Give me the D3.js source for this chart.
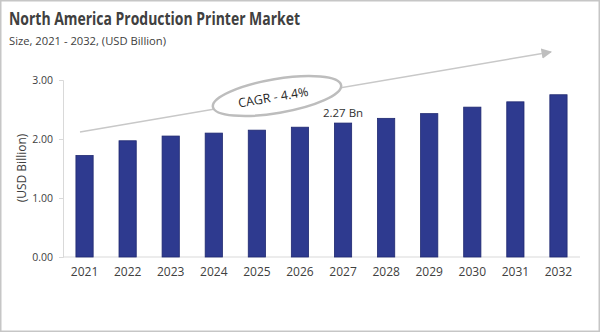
<!DOCTYPE html>
<html><head><meta charset="utf-8">
<script src="https://cdn.jsdelivr.net/npm/d3@7"></script>
<style>body{margin:0;background:#fff}svg{display:block}</style>
</head><body>
<script>
const years = ["2021","2022","2023","2024","2025","2026","2027","2028","2029","2030","2031","2032"];
const values = [1.72,1.97,2.05,2.10,2.15,2.20,2.27,2.35,2.43,2.54,2.63,2.75];
const yTicks = [0,1,2,3];
const title = "North America Production Printer Market";
const subtitle = "Size, 2021 - 2032, (USD Billion)";
const yLabel = "(USD Billion)";
const cagrText = "CAGR - 4.4%";
const annotIndex = 6;
const annotText = "2.27 Bn";

const W = 600, H = 332;
const font = "'Open Sans', 'Noto Sans', sans-serif";
const svg = d3.select("body").append("svg").attr("width", W).attr("height", H);
svg.append("rect").attr("x",0.75).attr("y",0.75).attr("width",W-1.5).attr("height",H-1.5)
  .attr("fill","#fff").attr("stroke","#c6c6c6").attr("stroke-width",1.5);

svg.append("text").attr("x",9).attr("y",25).text(title)
  .attr("font-family",font).attr("font-weight",700).attr("font-size",17).attr("fill","#404040")
  .attr("textLength",291).attr("lengthAdjust","spacingAndGlyphs");
svg.append("text").attr("x",9).attr("y",45).text(subtitle)
  .attr("font-family",font).attr("font-size",11.5).attr("fill","#404040")
  .attr("textLength",157).attr("lengthAdjust","spacingAndGlyphs");

const x = d3.scaleBand().domain(years).range([63,580]).paddingInner(0.6).paddingOuter(0.3);
const y = d3.scaleLinear().domain([0,3]).range([257,80]);

// y axis
const ya = svg.append("g").attr("transform","translate(63,0)")
  .call(d3.axisLeft(y).tickValues(yTicks).tickFormat(d3.format(".2f")).tickSize(4).tickPadding(6));
ya.select(".domain").attr("stroke","#d9d9d9");
ya.selectAll(".tick line").attr("stroke","#d9d9d9");
ya.selectAll(".tick text").attr("font-family",font).attr("font-size",10.5).attr("fill","#404040");

// x axis
const xa = svg.append("g").attr("transform","translate(0,257)")
  .call(d3.axisBottom(x).tickSize(0).tickPadding(10));
xa.select(".domain").attr("stroke","#d9d9d9").attr("d","M63,0H580");
xa.selectAll(".tick text").attr("font-family",font).attr("font-size",12).attr("fill","#404040");

svg.append("text").attr("transform","translate(26,168) rotate(-90)").attr("text-anchor","middle")
  .text(yLabel).attr("font-family",font).attr("font-size",12).attr("fill","#404040");

// bars
svg.append("g").selectAll("rect").data(values).join("rect")
  .attr("x",(d,i)=>x(years[i])).attr("width",x.bandwidth())
  .attr("y",d=>y(d)).attr("height",d=>y(0)-y(d))
  .attr("fill","#2e3a8f").attr("stroke","#1f2870").attr("stroke-width",0.8);

// annotation
svg.append("text").attr("x",x(years[annotIndex])+x.bandwidth()/2).attr("y",y(values[annotIndex])-6)
  .attr("text-anchor","middle").text(annotText)
  .attr("font-family",font).attr("font-size",11.5).attr("fill","#333");

// arrow
const defs = svg.append("defs");
defs.append("marker").attr("id","ah").attr("viewBox","0 0 10 10").attr("refX",9).attr("refY",5)
  .attr("markerWidth",7).attr("markerHeight",7).attr("orient","auto")
  .append("path").attr("d","M0,0L10,5L0,10Z").attr("fill","#bfbfbf");
svg.append("line").attr("x1",80).attr("y1",132).attr("x2",551).attr("y2",52)
  .attr("stroke","#c8c8c8").attr("stroke-width",1.5).attr("marker-end","url(#ah)");

// CAGR ellipse
const ang = -9.6;
const g = svg.append("g").attr("transform",`translate(277,96) rotate(${ang})`);
g.append("ellipse").attr("rx",65).attr("ry",17).attr("fill","#fff")
  .attr("stroke","#bdbdbd").attr("stroke-width",2.5);
g.append("text").attr("x",-4).attr("y",5).attr("text-anchor","middle").text(cagrText)
  .attr("font-family",font).attr("font-size",12.5).attr("fill","#262626");
</script>
</body></html>
